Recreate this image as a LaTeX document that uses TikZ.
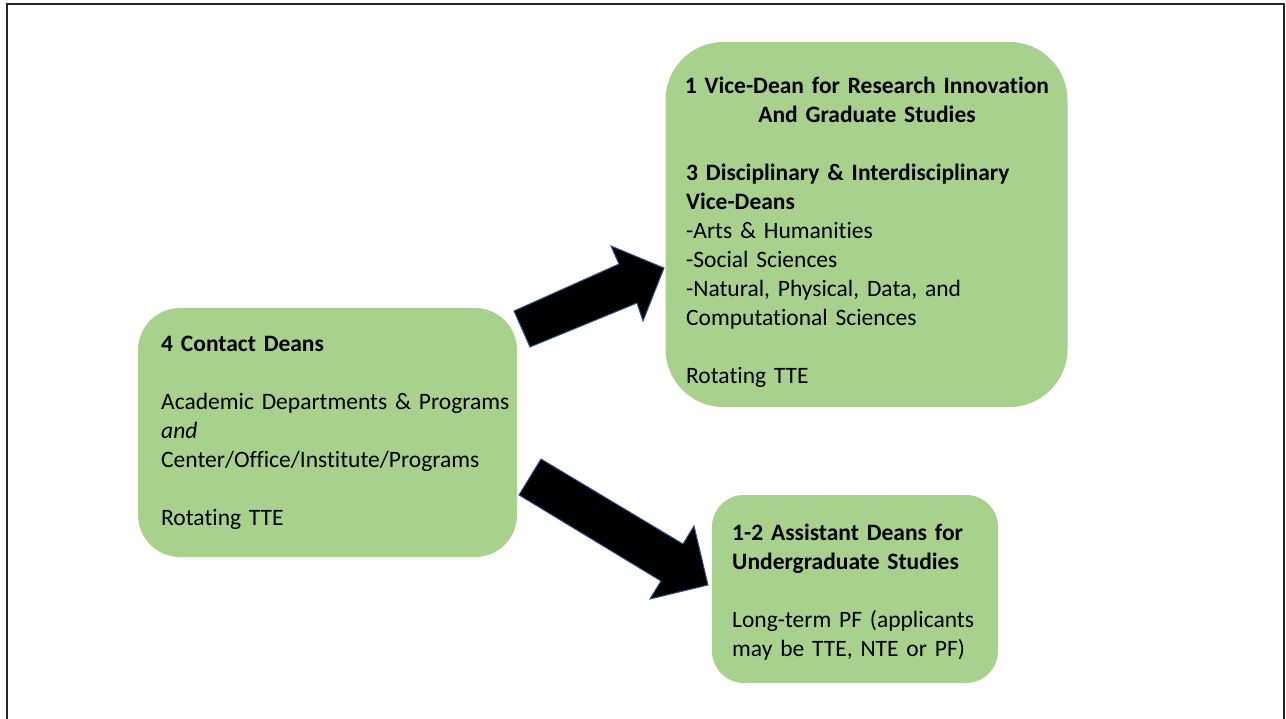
\documentclass[tikz,border=0pt]{standalone}
\usepackage{fontspec}
\setmainfont{Carlito}[Ligatures={NoCommon}]
\definecolor{boxgreen}{HTML}{A9D18E}
\definecolor{arrowedge}{HTML}{2F528F}
\begin{document}
\begin{tikzpicture}[x=1pt,y=-1pt,
  greenbox/.style={draw=none,fill=boxgreen,rectangle,inner sep=0pt},
  boxtext/.style={inner sep=0pt,anchor=base west,align=left,text width=420pt,
     font=\fontsize{23.5}{29}\selectfont},
  ctrtext/.style={inner sep=0pt,anchor=base,align=center,text width=400pt,
     font=\fontsize{23.5}{29}\selectfont},
  blockarrow/.style={fill=black,draw=arrowedge,line width=1pt,line join=miter}]
\useasboundingbox (0,0) rectangle (1286,719);
% frame
\draw[line width=2.6pt,black!85] (7,719) -- (7,4) -- (1284,4) -- (1284,719);
% boxes
\node[greenbox,rounded corners=42pt,minimum width=379pt,minimum height=249pt] (left) at (327.5,432.5) {};
\node[greenbox,rounded corners=58pt,minimum width=402pt,minimum height=365pt] (top) at (866.5,224.5) {};
\node[greenbox,rounded corners=32pt,minimum width=286pt,minimum height=188pt] (bot) at (855,589) {};
% texts
\node[boxtext] (lefttext) at (161,352) {\textbf{4 Contact Deans}\\[29pt]
Academic Departments \& Programs\\
\textit{and}\\
Center/Office/Institute/Programs\\[29pt]
Rotating TTE};
\node[ctrtext] (toptitle) at (867,94) {\textbf{1 Vice-Dean for Research Innovation}\\
\textbf{And Graduate Studies}};
\node[boxtext] (toptext) at (686,181) {\textbf{3 Disciplinary \& Interdisciplinary}\\
\textbf{Vice-Deans}\\
-Arts \& Humanities\\
-Social Sciences\\
-Natural, Physical, Data, and\\
Computational Sciences\\[29pt]
Rotating TTE};
\node[boxtext] (bottext) at (732,540) {\textbf{1-2 Assistant Deans for}\\
\textbf{Undergraduate Studies}\\[29pt]
Long-term PF (applicants\\
may be TTE, NTE or PF)};
% block arrows
\coordinate (a1) at (530,347);
\coordinate (a2) at (514,311);
\coordinate (a3) at (619,264);
\coordinate (a4) at (611,246);
\coordinate (a5) at (664,268);
\coordinate (a6) at (643,321);
\coordinate (a7) at (637,303);
\draw[blockarrow] (a1) -- (a2) -- (a3) -- (a4) -- (a5) -- (a6) -- (a7) -- cycle;
\coordinate (b1) at (541,459);
\coordinate (b2) at (519,495);
\coordinate (b3) at (661,581);
\coordinate (b4) at (650,599);
\coordinate (b5) at (708,585);
\coordinate (b6) at (694,526);
\coordinate (b7) at (683,544);
\draw[blockarrow] (b1) -- (b2) -- (b3) -- (b4) -- (b5) -- (b6) -- (b7) -- cycle;
\end{tikzpicture}
\end{document}
